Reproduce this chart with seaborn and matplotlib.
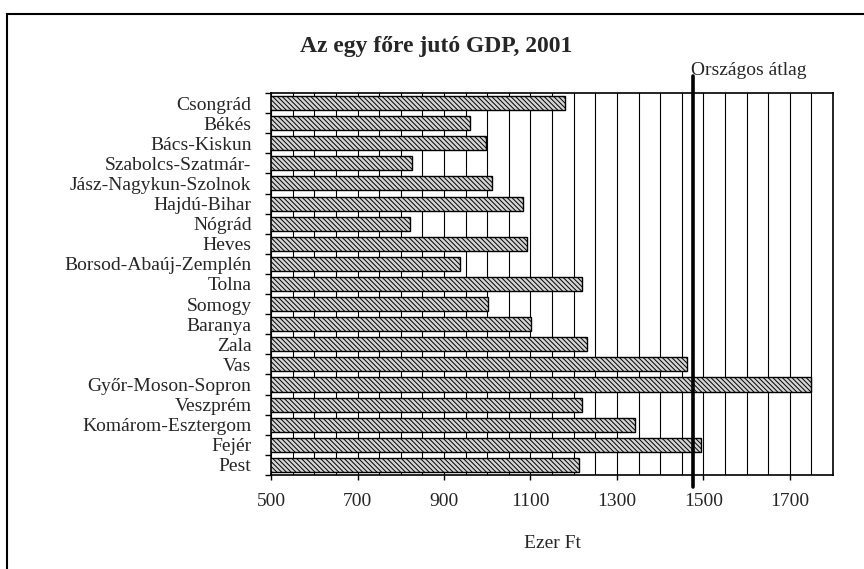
import matplotlib
matplotlib.use("Agg")
import matplotlib.pyplot as plt
import seaborn as sns
import pandas as pd
from matplotlib.ticker import FixedLocator, FixedFormatter, MultipleLocator, NullFormatter
from matplotlib.patches import Rectangle

# adatok (leolvasva az ábráról)
megyek = ["Csongrád", "Békés", "Bács-Kiskun", "Szabolcs-Szatmár-",
          "Jász-Nagykun-Szolnok", "Hajdú-Bihar", "Nógrád", "Heves",
          "Borsod-Abaúj-Zemplén", "Tolna", "Somogy", "Baranya", "Zala", "Vas",
          "Győr-Moson-Sopron", "Veszprém", "Komárom-Esztergom", "Fejér", "Pest"]
gdp = [1180, 961, 998, 825, 1010, 1083, 821, 1091, 936, 1219,
       1001, 1101, 1230, 1461, 1749, 1219, 1343, 1495, 1212]
orszagos_atlag = 1475
x_ticks = [500, 700, 900, 1100, 1300, 1500, 1700]

sns.set_style("white")
plt.rcParams["font.family"] = ["Liberation Serif", "DejaVu Serif"]
plt.rcParams["hatch.linewidth"] = 0.7

df = pd.DataFrame({"megye": megyek, "gdp": gdp})

fig = plt.figure(figsize=(8.64, 5.69), dpi=100)
ax = fig.add_axes([0.3137, 0.1652, 0.6505, 0.6714])

sns.barplot(data=df, x="gdp", y="megye", orient="h", color="#d4d4d4",
            edgecolor="black", linewidth=1, width=0.7, saturation=1, ax=ax)
for p in ax.patches:
    p.set_hatch("\\\\\\\\\\\\\\")

ax.set_xlim(500, 1800)
ax.set_ylim(18.5, -0.5)
ax.xaxis.set_major_locator(FixedLocator(x_ticks))
ax.xaxis.set_minor_locator(MultipleLocator(50))
ax.grid(which="both", axis="x", color="black", lw=0.8)
ax.set_axisbelow(True)

# kategóriák határán a jelölők, közepén a feliratok
ax.yaxis.set_major_locator(FixedLocator([i - 0.5 for i in range(20)]))
ax.yaxis.set_major_formatter(NullFormatter())
ax.yaxis.set_minor_locator(FixedLocator(list(range(len(megyek)))))
ax.yaxis.set_minor_formatter(FixedFormatter(megyek))
ax.tick_params(axis="y", which="major", left=True, length=4.3, width=1, color="black")
ax.tick_params(axis="y", which="minor", length=0, pad=14, labelsize=14)
ax.tick_params(axis="x", which="major", bottom=True, length=3.6, width=1,
               color="black", pad=9, labelsize=14)
ax.tick_params(axis="x", which="minor", length=0)

for s in ax.spines.values():
    s.set_visible(True)
    s.set_color("black")
    s.set_linewidth(1.2)

ax.axvline(orszagos_atlag, ymin=-0.031, ymax=1.045, color="black", lw=2.6,
           clip_on=False, zorder=5)
ax.text(orszagos_atlag - 3, 1.047, "Országos átlag", transform=ax.get_xaxis_transform(),
        ha="left", va="baseline", fontsize=14)

ax.set_xlabel("Ezer Ft", fontsize=14, labelpad=18)
ax.set_ylabel("")

fig.text(0.505, 0.909, "Az egy főre jutó GDP, 2001", ha="center", va="baseline",
         fontsize=17, fontweight="bold")

fig.add_artist(Rectangle((7 / 864, -0.1), 1.2, 1.0754, transform=fig.transFigure,
                         fill=False, edgecolor="black", lw=1.5))

fig.savefig("out.png", dpi=100)
